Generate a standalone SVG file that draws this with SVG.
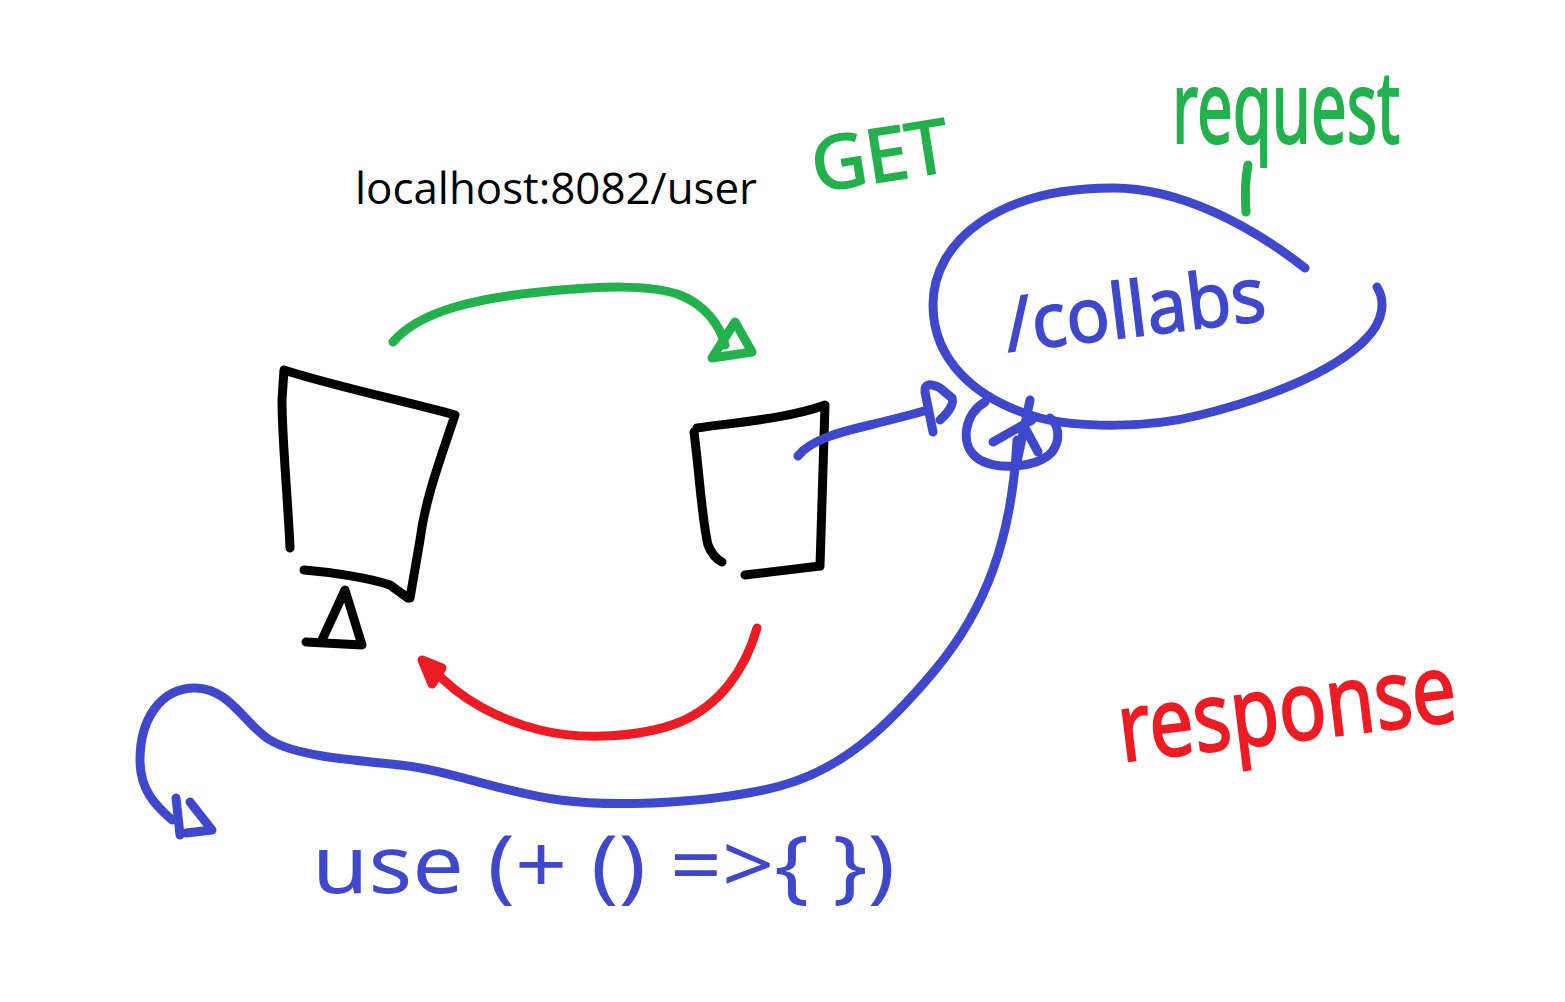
<svg xmlns="http://www.w3.org/2000/svg" width="1565" height="1002" viewBox="0 0 1565 1002">
<style>
.s{fill:none;stroke-width:9;stroke-linecap:round;stroke-linejoin:round}
.k{stroke:#000}
.g{stroke:#22b14c}
.b{stroke:#3f48cc}
.r{stroke:#ed1c24}
.hw{font-family:"Noto Sans","DejaVu Sans",sans-serif;font-weight:400}
</style>
<rect width="1565" height="1002" fill="#fff"/>
<g id="client">
<path class="s k" d="M290,548 C288,500 282,440 282,400 L284,370 C330,385 400,400 455,415 C440,460 425,500 420,540 L410,598"/>
<path class="s k" d="M304,570 C330,572 370,578 390,585 L408,598"/>
<path class="s k" d="M306,642 L362,645 L345,590 L322,640"/>
</g>
<g id="server">
<path class="s k" d="M697,428 C740,422 790,418 825,405 L820,566 L745,575"/>
<path class="s k" d="M694,432 C700,480 702,520 708,545 C712,555 718,560 722,562"/>
</g>
<g id="collabs">
<path class="s b" d="M1305,268 C1250,225 1180,188 1113,188 C1000,188 933,240 933,305 C933,360 975,400 1040,418 C1080,428 1150,428 1200,415 C1260,400 1330,375 1365,340 C1385,320 1385,300 1377,287"/>
<text class="hw" x="1008" y="352" font-size="76" fill="#3f48cc" stroke="#3f48cc" stroke-width="1.5" textLength="262" lengthAdjust="spacingAndGlyphs" transform="rotate(-7 1008 352)">/collabs</text>
</g>
<g id="hub">
<path class="s b" d="M985,402 C964,414 960,444 976,457 C992,471 1037,469 1052,452 C1061,440 1059,425 1050,418"/>
<path class="s b" d="M1030,400 L1017,462 M993,442 L1032,420 M1024,426 L1038,452"/>
</g>
<g id="connectors">
<path class="s g" d="M393,342 C420,310 480,298 540,292 C600,286 650,284 680,295 C705,305 720,325 725,345"/>
<path class="s g" d="M735,322 L712,358 L752,352 Z"/>
<path class="s r" d="M757,628 C745,670 720,705 680,722 C640,738 580,740 540,730 C500,720 460,700 432,668"/>
<path class="s r" d="M422,660 L442,668 L432,684 Z" fill="#ed1c24"/>
<path class="s b" d="M798,456 C810,440 840,432 870,425 C890,420 910,415 928,410"/>
<path class="s b" d="M933,432 L925,392 Q924,380 940,388 L952,398 Q955,406 940,420"/>
<path class="s b" d="M1017,440 C1012,540 985,610 935,670 C885,730 840,770 780,786 C720,802 620,808 560,800 C500,792 450,770 400,765 C340,759 295,755 270,740 C245,725 230,688 195,688 C160,688 140,720 140,760 C140,790 155,805 172,820"/>
<path class="s b" d="M176,798 L180,835 M190,802 L212,830 L186,833"/>
</g>
<g id="labels">
<text x="355" y="204" font-family="'Open Sans','Liberation Sans',sans-serif" font-size="44" fill="#000" textLength="402" lengthAdjust="spacingAndGlyphs">localhost:8082/user</text>
<text class="hw" x="816" y="192" font-size="74" fill="#22b14c" stroke="#22b14c" stroke-width="2" textLength="138" lengthAdjust="spacingAndGlyphs" transform="rotate(-9 816 192)">GET</text>
<text class="hw" x="1172" y="143" font-size="100" fill="#22b14c" stroke="#22b14c" stroke-width="2" textLength="228" lengthAdjust="spacingAndGlyphs">request</text>
<path class="s g" d="M1248,165 C1245,180 1245,198 1246,212"/>
<text class="hw" x="1122" y="762" font-size="96" fill="#ed1c24" stroke="#ed1c24" stroke-width="2" textLength="340" lengthAdjust="spacingAndGlyphs" transform="rotate(-7 1122 762)">response</text>
<text class="hw" x="312" y="893" font-size="80" fill="#3f48cc" textLength="583" lengthAdjust="spacingAndGlyphs">use (+ () =&gt;{ })</text>
</g>
</svg>
